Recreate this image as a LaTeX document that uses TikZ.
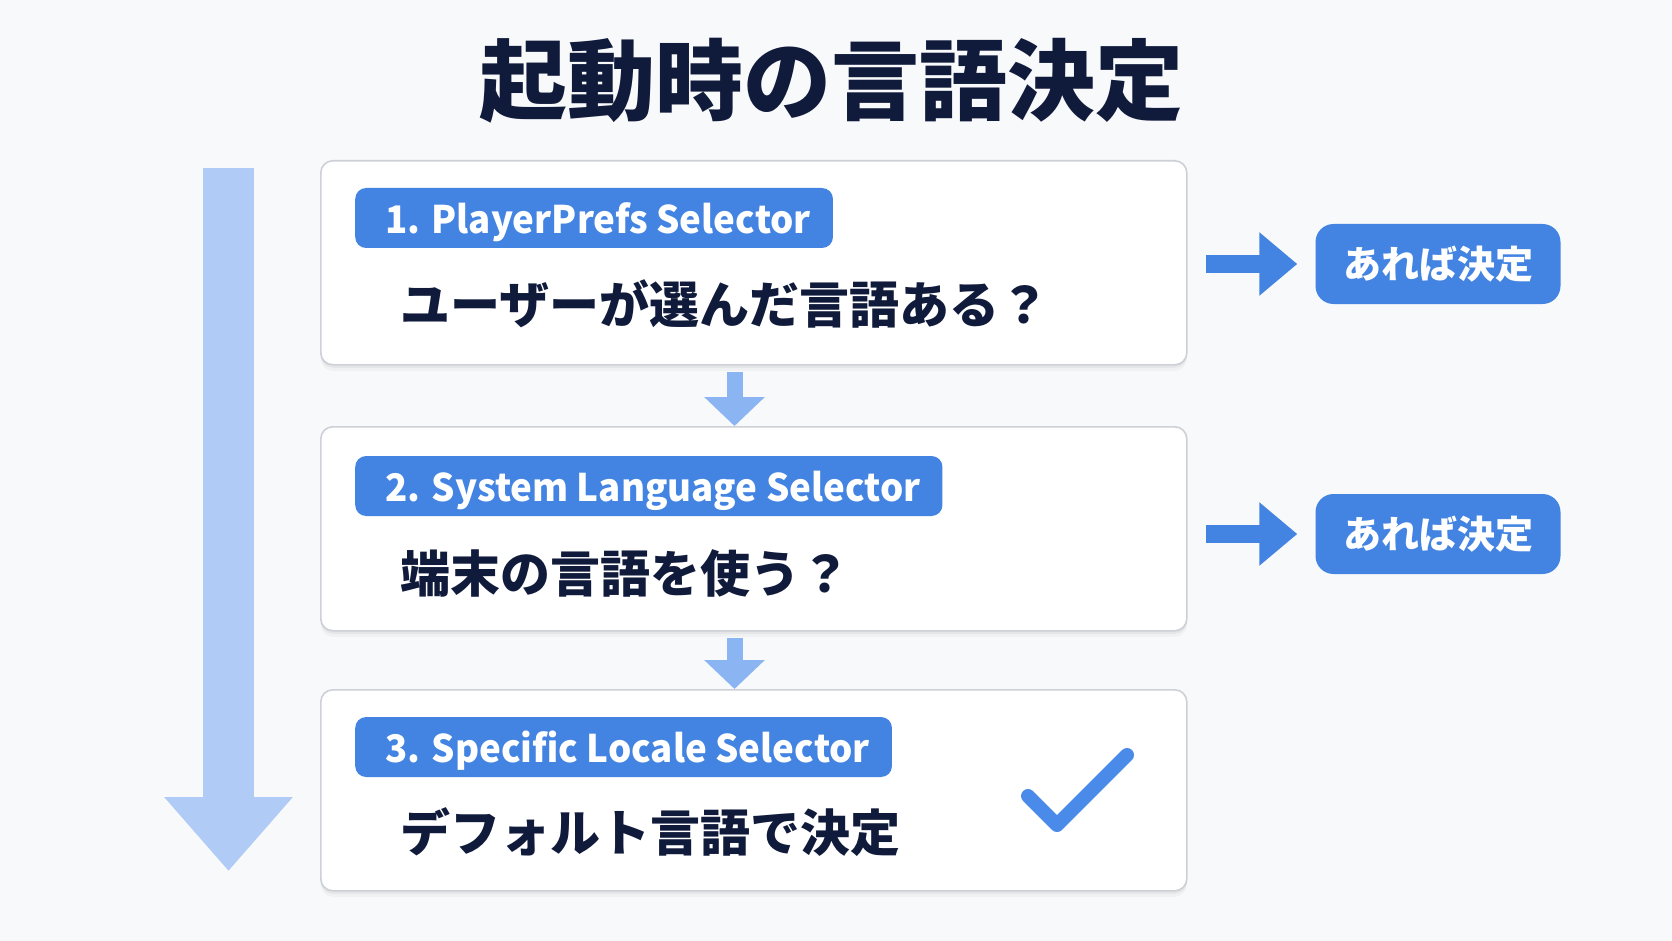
\documentclass[tikz,border=0pt]{standalone}
\usepackage{fontspec}
\setmainfont{Noto Sans CJK JP}
\newfontfamily\labelfont{Noto Sans CJK JP}[FakeStretch=0.965]
\usetikzlibrary{arrows.meta}
\definecolor{bgc}{HTML}{F8F9FB}
\definecolor{boxline}{HTML}{CDD0D6}
\definecolor{pillc}{HTML}{4384E2}
\definecolor{darktext}{HTML}{101A3A}
\definecolor{bigarrow}{HTML}{AFCBF6}
\definecolor{midarrow}{HTML}{8BB4F2}
\definecolor{checkc}{HTML}{4A8AE8}
\tikzset{
  stepbox/.style={draw=boxline, line width=1.6pt, fill=white, rounded corners=12pt,
    minimum width=866pt, minimum height=204pt, anchor=north west, inner sep=0pt,
    preaction={fill=black, opacity=0.045, rounded corners=12pt, transform canvas={yshift=-3pt}},
    preaction={fill=black, opacity=0.03, rounded corners=12pt, transform canvas={yshift=-6pt}}},
  labelpill/.style={fill=pillc, rounded corners=11pt, text=white, anchor=west,
    minimum height=60pt, inner xsep=22pt, inner ysep=0pt,
    text height=31pt, text depth=0pt,
    execute at begin node={\hspace*{8pt}},
    font=\labelfont\fontsize{38}{40}\selectfont\bfseries},
  resultpill/.style={fill=pillc, rounded corners=18pt, text=white,
    minimum width=245pt, minimum height=80pt, inner sep=0pt,
    font=\fontsize{38}{40}\selectfont\bfseries},
  question/.style={text=darktext, anchor=base west, inner sep=0pt,
    font=\fontsize{50}{52}\selectfont\bfseries},
  downarrow/.style={draw=midarrow, line width=16pt,
    -{Triangle[length=29pt, width=59pt]}, shorten <=6pt},
  rightarrow/.style={draw=pillc, line width=18pt,
    -{Triangle[length=38pt, width=61pt]}, shorten <=18pt, shorten >=18pt},
}
\begin{document}
\begin{tikzpicture}[x=1pt,y=-1pt]
\useasboundingbox (0,0) rectangle (1672,941);
\fill[bgc] (0,0) rectangle (1672,941);

% title
\node[text=darktext, anchor=base, inner sep=0pt, font=\fontsize{88}{90}\selectfont\bfseries]
  (title) at (831,114) {起動時の言語決定};

% big progress arrow
\coordinate (bigtop) at (228.5,168);
\coordinate (bigtip) at (228.5,871);
\draw[draw=bigarrow, line width=51pt, -{Triangle[length=74pt, width=124pt]}] (bigtop) -- (bigtip);

% step boxes
\node[stepbox] (b1) at (320,160) {};
\node[stepbox] (b2) at (320,426) {};
\node[stepbox, minimum height=201pt] (b3) at (320,689) {};

% labels
\node[labelpill] (l1) at (355,218) {1. PlayerPrefs Selector};
\node[labelpill] (l2) at (355,486) {2. System Language Selector};
\node[labelpill] (l3) at (355,747) {3. Specific Locale Selector};

% questions
\node[question] (q1) at (400,323) {ユーザーが選んだ言語ある？};
\node[question] (q2) at (400,592) {端末の言語を使う？};
\node[question] (q3) at (400,851) {デフォルト言語で決定};

% down arrows between boxes
\draw[downarrow] (b1.south -| 734.5,0) -- (b2.north -| 734.5,0);
\draw[downarrow] (b2.south -| 734.5,0) -- (b3.north -| 734.5,0);

% result pills
\node[resultpill] (r1) at (1438,264) {あれば決定};
\node[resultpill] (r2) at (1438,534) {あれば決定};
\draw[rightarrow] (b1.east |- r1) -- (r1.west);
\draw[rightarrow] (b2.east |- r2) -- (r2.west);

% check mark
\draw[checkc, line width=14pt, line cap=round, line join=round]
  (1028,796) -- (1057,825) -- (1127,755);
\end{tikzpicture}
\end{document}
